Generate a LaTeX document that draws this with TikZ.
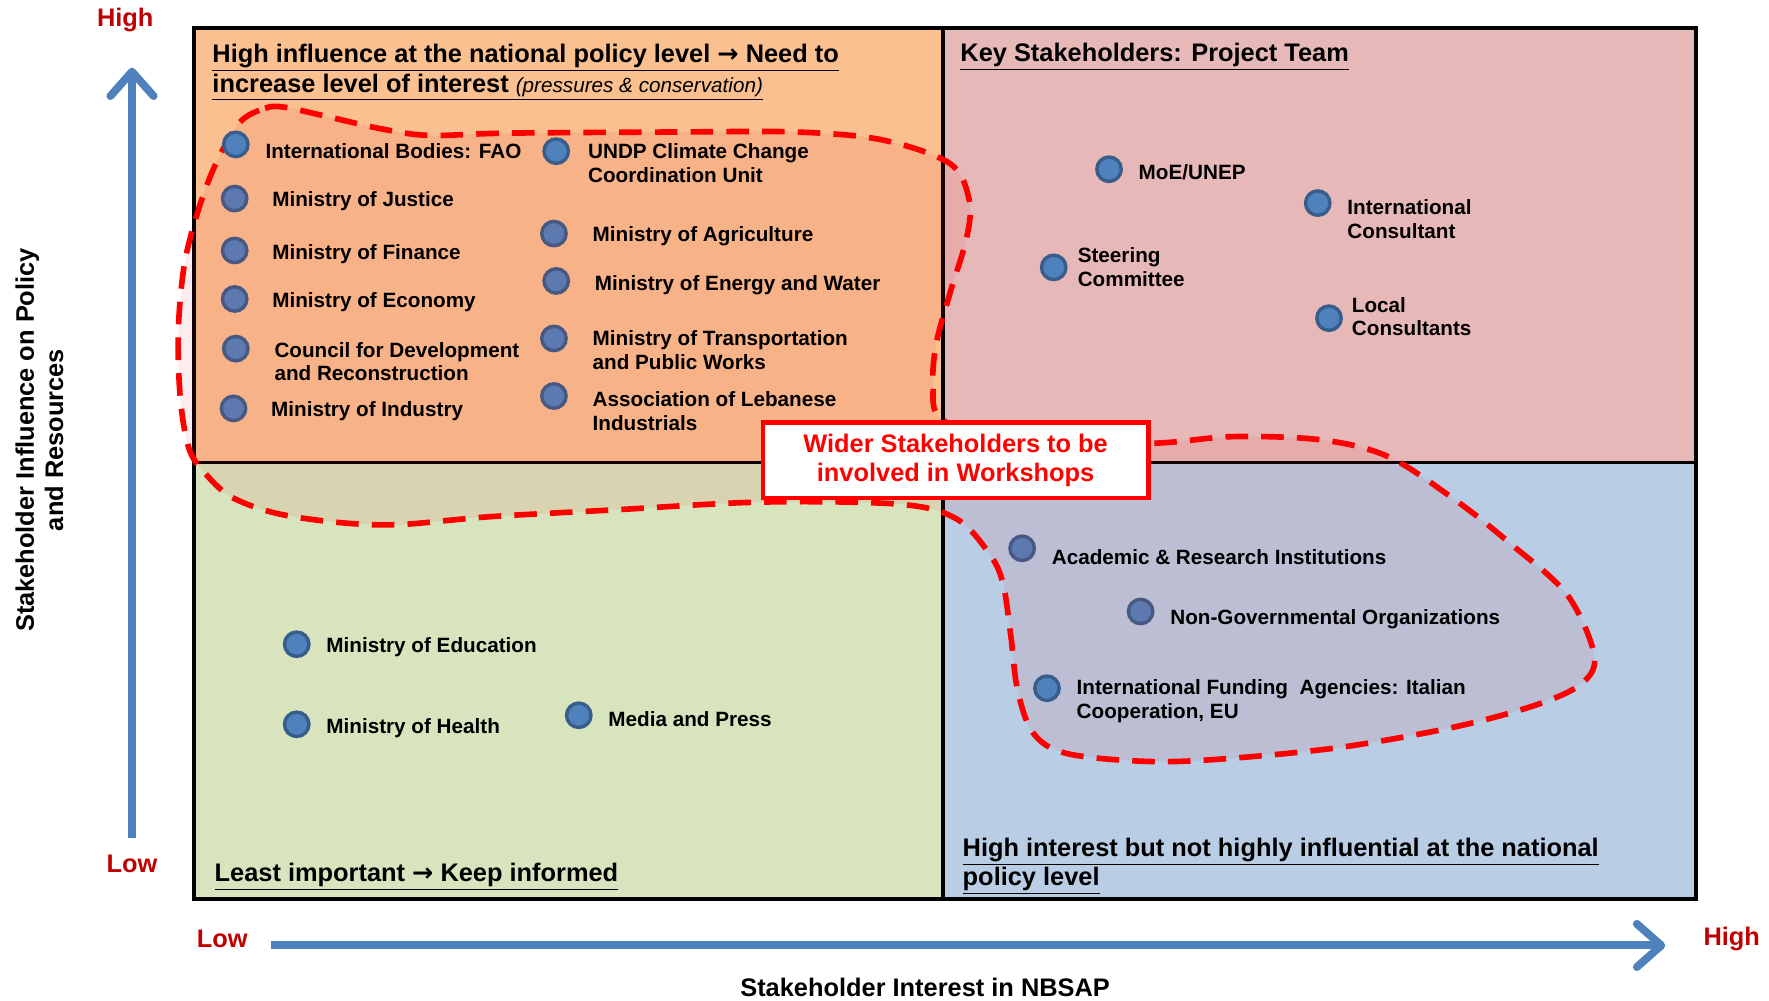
\documentclass[tikz,border=0pt]{standalone}
\usepackage{fontspec}
\setmainfont{Liberation Sans}
\newfontfamily\arrowfont{DejaVu Sans}
\usepackage{tikz}
\usetikzlibrary{arrows.meta,positioning}
\definecolor{tlorange}{HTML}{FAC090}
\definecolor{trpink}{HTML}{E6B9B8}
\definecolor{blgreen}{HTML}{D7E4BD}
\definecolor{brblue}{HTML}{B9CDE5}
\definecolor{dotblue}{HTML}{4F81BD}
\definecolor{dotedge}{HTML}{385D8A}
\definecolor{axisred}{HTML}{C00000}
\definecolor{blobred}{RGB}{228,44,50}
\newcommand{\thento}{{\arrowfont\bfseries →}}

\begin{document}
\begin{tikzpicture}[x=0.6pt, y=-0.6pt,
    dot/.style={circle, draw=dotedge, fill=dotblue, line width=1.8pt, minimum size=13pt, inner sep=0pt},
    lbl/.style={anchor=west, inner sep=0pt, align=left, yshift=-1.5pt, font=\fontsize{11}{12.6}\selectfont\bfseries},
    title/.style={anchor=west, inner sep=0pt, align=left, yshift=-2.4pt, font=\fontsize{13.5}{15.6}\selectfont\bfseries},
    axtitle/.style={inner sep=0pt, align=center, font=\fontsize{13.5}{15.6}\selectfont\bfseries},
    level/.style={inner sep=0pt, text=axisred, font=\fontsize{13.5}{15.6}\selectfont\bfseries},
    frame/.style={draw=black, line width=2pt},
    axis/.style={draw=dotblue, line width=4.2pt, -{Straight Barb[length=13pt, width=23pt, round]}},
    blob/.style={draw=red, line width=3pt, dash pattern=on 12pt off 7pt, fill=blobred, fill opacity=0.09},
    widerbox/.style={draw=red, line width=2.4pt, fill=white, text=red, align=center,
        minimum width=205pt, minimum height=40pt, font=\fontsize{13.5}{15.6}\selectfont\bfseries}]
         \useasboundingbox (0,0) rectangle (1568,886.4);

         % Quadrants
         \fill[tlorange] (172,25) rectangle (836,410);
         \fill[trpink] (836,25) rectangle (1503,410);
         \fill[blgreen] (172,410) rectangle (836,797);
         \fill[brblue] (836,410) rectangle (1503,797);
         \draw[frame] (172,25) rectangle (1503,797);
         \draw[frame] (836,25) -- (836,797);
         \draw[frame] (172,410) -- (1503,410);

         % Quadrant titles
         \node[title] (hiinfl) at (188,60) {\underline{High influence at the national policy level \thento\ Need to}\\
             \underline{increase level of interest {\normalfont\itshape\fontsize{11}{12}\selectfont (pressures \& conservation)}}};
         \node[title] (keyst) at (851,46) {\underline{Key Stakeholders: Project Team}};
         \node[title] (least) at (190,773) {\underline{Least important \thento\ Keep informed}};
         \node[title] (hiint) at (853,764) {\underline{High interest but not highly influential at the national}\\\underline{policy level}};

         % Stakeholders under the workshop area
         \node[dot] (justice) at (208,176) {};
         \node[dot] (finance) at (208,222) {};
         \node[dot] (economy) at (208,265) {};
         \node[dot] (council) at (209,309) {};
         \node[dot] (industry) at (207,362) {};
         \node[dot] (agri) at (491,207) {};
         \node[dot] (energy) at (493,249) {};
         \node[dot] (transport) at (491,300) {};
         \node[dot] (assoc) at (491,351) {};
         \node[dot] (academic) at (906,486) {};
         \node[dot] (ngo) at (1011,542) {};

         % Workshop area
         \draw[blob] plot[smooth cycle, tension=0.55] coordinates {
             (212,109) (235,96) (252,95) (293,104) (337,114) (380,120) (450,118) (600,117)
             (706,117) (782,124) (842,145) (859,177) (857,210) (842,260) (830,304) (827,340)
             (835,372) (900,392) (1019,393) (1093,387) (1172,390) (1231,405) (1291,444)
             (1339,482) (1389,527) (1413,580) (1403,605) (1364,624) (1291,644) (1191,662)
             (1093,672) (1020,675) (946,668) (916,650) (902,612) (896,564) (889,517)
             (877,491) (848,460) (798,447) (676,445) (543,452) (434,458) (353,465)
             (299,463) (245,455) (206,441) (184,422) (168,399) (160,355) (158,295)
             (163,237) (174,192) (190,148)};

         % Other stakeholders
         \node[dot] (fao) at (209,128) {};
         \node[dot] (undp) at (493,134) {};
         \node[dot] (moe) at (983,150) {};
         \node[dot] (intcons) at (1168,180) {};
         \node[dot] (steering) at (934,237) {};
         \node[dot] (loccons) at (1178,282) {};
         \node[dot] (educ) at (263,571) {};
         \node[dot] (health) at (263,642) {};
         \node[dot] (media) at (513,634) {};
         \node[dot] (funding) at (928,610) {};

         % Labels
         \node[lbl] (faoL) at (235,131) {International Bodies: FAO};
         \node[lbl] (justiceL) at (241,176) {Ministry of Justice};
         \node[lbl] (financeL) at (241,223) {Ministry of Finance};
         \node[lbl] (economyL) at (241,265) {Ministry of Economy};
         \node[lbl] (councilL) at (243,318) {Council for Development\\and Reconstruction};
         \node[lbl] (industryL) at (240,362) {Ministry of Industry};
         \node[lbl] (undpL) at (521,142) {UNDP Climate Change\\Coordination Unit};
         \node[lbl] (agriL) at (525,207) {Ministry of Agriculture};
         \node[lbl] (energyL) at (527,250) {Ministry of Energy and Water};
         \node[lbl] (transportL) at (525,308) {Ministry of Transportation\\and Public Works};
         \node[lbl] (assocL) at (525,362) {Association of Lebanese\\Industrials};
         \node[lbl] (moeL) at (1009,150) {MoE/UNEP};
         \node[lbl] (intconsL) at (1194,192) {International\\Consultant};
         \node[lbl] (steeringL) at (955,234) {Steering\\Committee};
         \node[lbl] (locconsL) at (1198,278) {Local\\Consultants};
         \node[lbl] (educL) at (289,571) {Ministry of Education};
         \node[lbl] (healthL) at (289,643) {Ministry of Health};
         \node[lbl] (mediaL) at (539,635) {Media and Press};
         \node[lbl] (academicL) at (932,491) {Academic \& Research Institutions};
         \node[lbl] (ngoL) at (1037,546) {Non-Governmental Organizations};
         \node[lbl] (fundingL) at (954,619) {International Funding\ \ Agencies: Italian\\Cooperation, EU};

         % Workshop box
         \node[widerbox] (wider) at (847,408) {Wider Stakeholders to be\\involved in Workshops};

         % Axes
         \coordinate (ylow) at (117,743);
         \coordinate (yhigh) at (117,60);
         \coordinate (xlow) at (240,838);
         \coordinate (xhigh) at (1476,838);
         \draw[axis] (ylow) -- (yhigh);
         \draw[axis] (xlow) -- (xhigh);
         \node[level] (yhi) at (111,18) {High};
         \node[level] (ylo) at (117,766) {Low};
         \node[level] (xlo) at (197,832) {Low};
         \node[level] (xhi) at (1535,832) {High};
         \node[axtitle, rotate=90] (ytitle) at (35,390) {Stakeholder Influence on Policy\\and Resources};
         \node[axtitle] (xtitle) at (820,875) {Stakeholder Interest in NBSAP};
\end{tikzpicture}
\end{document}
